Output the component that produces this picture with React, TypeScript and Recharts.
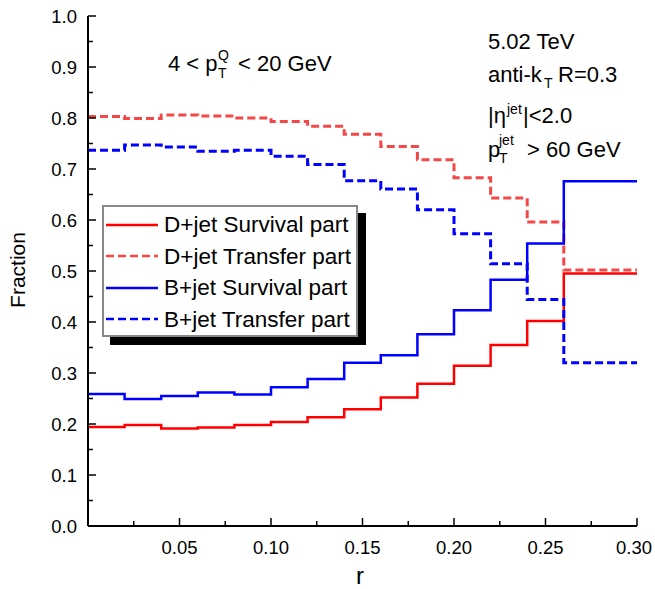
import { LineChart, Line, XAxis, YAxis, Legend } from "recharts";

const rEdges = [0, 0.02, 0.04, 0.06, 0.08, 0.1, 0.12, 0.14, 0.16, 0.18, 0.2, 0.22, 0.24, 0.26, 0.28, 0.3];

// one value per bin (15 bins of width 0.02)
const dSurvival = [0.194, 0.198, 0.191, 0.193, 0.198, 0.204, 0.213, 0.229, 0.252, 0.279, 0.314, 0.355, 0.402, 0.495, 0.495];
const dTransfer = [0.803, 0.799, 0.806, 0.804, 0.8, 0.793, 0.784, 0.768, 0.744, 0.718, 0.683, 0.643, 0.596, 0.502, 0.502];
const bSurvival = [0.259, 0.249, 0.255, 0.262, 0.258, 0.272, 0.288, 0.32, 0.335, 0.376, 0.423, 0.483, 0.554, 0.676, 0.676];
const bTransfer = [0.737, 0.747, 0.743, 0.735, 0.737, 0.725, 0.709, 0.677, 0.661, 0.62, 0.573, 0.514, 0.444, 0.32, 0.32];

const xTicks = [0.025, 0.05, 0.075, 0.1, 0.125, 0.15, 0.175, 0.2, 0.225, 0.25, 0.275, 0.3];
const xLabels = ["0.05", "0.10", "0.15", "0.20", "0.25", "0.30"];
const yTicks = [0, 0.05, 0.1, 0.15, 0.2, 0.25, 0.3, 0.35, 0.4, 0.45, 0.5, 0.55, 0.6, 0.65, 0.7, 0.75, 0.8, 0.85, 0.9, 0.95, 1];

const series = [
  { key: "dSurv", name: "D+jet Survival part", color: "#ff0000", dash: undefined, values: dSurvival },
  { key: "dTrans", name: "D+jet Transfer part", color: "#f44848", dash: "8 4", values: dTransfer },
  { key: "bSurv", name: "B+jet Survival part", color: "#0000ff", dash: undefined, values: bSurvival },
  { key: "bTrans", name: "B+jet Transfer part", color: "#0000ff", dash: "8 4", values: bTransfer },
];

const data = rEdges.map((r, i) => {
  const row: any = { r };
  series.forEach((s) => {
    row[s.key] = s.values[Math.min(i, s.values.length - 1)];
  });
  return row;
});

const FONT = "'Liberation Sans', Arial, sans-serif";

const isMajorX = (v: number) => Math.round(v * 1000) % 50 === 0;
const isMajorY = (v: number) => Math.round(v * 100) % 10 === 0;

const BottomTick = (props: any) => {
  const { x, y, payload } = props;
  const v = payload.value;
  const major = isMajorX(v);
  const idx = Math.round(v * 20) - 1;
  return (
    <g>
      <line x1={x} y1={y} x2={x} y2={y - (major ? 8 : 5)} stroke="#000" strokeWidth={1.5} />
      {major && (
        <text x={idx === 5 ? x - 3 : x} y={y + 28} textAnchor="middle" fontSize={18.5} fontFamily={FONT} fill="#000">
          {xLabels[idx]}
        </text>
      )}
    </g>
  );
};

const TopTick = (props: any) => {
  const { x, y, payload } = props;
  const major = isMajorX(payload.value);
  return <line x1={x} y1={y} x2={x} y2={y + (major ? 8 : 5)} stroke="#000" strokeWidth={1.5} />;
};

const LeftTick = (props: any) => {
  const { x, y, payload } = props;
  const v = payload.value;
  const major = isMajorY(v);
  return (
    <g>
      <line x1={x} y1={y} x2={x + (major ? 8 : 5)} y2={y} stroke="#000" strokeWidth={1.5} />
      {major && (
        <text x={x - 11} y={y + 7} textAnchor="end" fontSize={18.5} fontFamily={FONT} fill="#000">
          {v.toFixed(1)}
        </text>
      )}
    </g>
  );
};

const RightTick = (props: any) => {
  const { x, y, payload } = props;
  const major = isMajorY(payload.value);
  return <line x1={x} y1={y} x2={x - (major ? 8 : 5)} y2={y} stroke="#000" strokeWidth={1.5} />;
};

const LegendBox = () => (
  <div
    style={{
      width: 256,
      height: 132,
      border: "2px solid #888",
      background: "#fff",
      boxShadow: "8px 8px 0 #000",
      fontFamily: FONT,
      fontSize: 22.5,
      paddingTop: 2,
      boxSizing: "border-box",
    }}
  >
    {series.map((s) => (
      <div key={s.key} style={{ display: "flex", alignItems: "center", height: 31.5 }}>
        <svg width={60} height={10} style={{ flex: "none" }}>
          <line x1={2} y1={5} x2={54} y2={5} stroke={s.color} strokeWidth={2.5} strokeDasharray={s.dash} />
        </svg>
        <span style={{ color: "#000", whiteSpace: "nowrap", lineHeight: "31.5px" }}>{s.name}</span>
      </div>
    ))}
  </div>
);

const txt = { fontFamily: FONT, fill: "#000" } as const;

export default function App() {
  return (
    <div style={{ position: "relative", width: 655, height: 589, background: "#fff", overflow: "hidden" }}>
      <style>{"body{margin:0;overflow:hidden}"}</style>
      <LineChart width={655} height={589} data={data} margin={{ top: 16, right: 18, bottom: 0, left: 0 }}>
        <XAxis
          dataKey="r"
          type="number"
          domain={[0, 0.3]}
          ticks={xTicks}
          interval={0}
          tickSize={0}
          tickMargin={0}
          tick={<BottomTick />}
          tickLine={false}
          height={63}
          axisLine={{ stroke: "#000", strokeWidth: 2 }}
          allowDataOverflow
        />
        <XAxis
          xAxisId="top"
          orientation="top"
          dataKey="r"
          type="number"
          domain={[0, 0.3]}
          ticks={xTicks}
          interval={0}
          tickSize={0}
          tickMargin={0}
          tick={<TopTick />}
          tickLine={false}
          height={0}
          axisLine={{ stroke: "#000", strokeWidth: 2 }}
          allowDataOverflow
        />
        <YAxis
          type="number"
          domain={[0, 1]}
          ticks={yTicks}
          interval={0}
          tickSize={0}
          tickMargin={0}
          tick={<LeftTick />}
          tickLine={false}
          width={88}
          axisLine={{ stroke: "#000", strokeWidth: 2 }}
          allowDataOverflow
        />
        <YAxis
          yAxisId="right"
          orientation="right"
          type="number"
          domain={[0, 1]}
          ticks={yTicks}
          interval={0}
          tickSize={0}
          tickMargin={0}
          tick={<RightTick />}
          tickLine={false}
          width={0}
          axisLine={{ stroke: "#000", strokeWidth: 2 }}
          allowDataOverflow
        />
        <Legend
          layout="horizontal"
          verticalAlign="middle"
          align="center"
          content={<LegendBox />}
          wrapperStyle={{ position: "absolute", left: 102, top: 205, width: 266, height: 142 }}
        />
        {series.map((s) => (
          <Line
            key={s.key}
            dataKey={s.key}
            name={s.name}
            type="stepAfter"
            stroke={s.color}
            strokeWidth={s.dash ? 3 : 2.5}
            strokeDasharray={s.dash}
            dot={false}
            activeDot={false}
            isAnimationActive={false}
          />
        ))}
      </LineChart>
      <svg width={655} height={589} style={{ position: "absolute", left: 0, top: 0, pointerEvents: "none" }}>
        <text x={168} y={71} fontSize={22} {...txt}>4 &lt; p</text>
        <text x={218} y={60} fontSize={14} {...txt}>Q</text>
        <text x={218} y={78} fontSize={14} {...txt}>T</text>
        <text x={238} y={71} fontSize={22} {...txt}>&lt; 20 GeV</text>

        <text x={488} y={49} fontSize={22} {...txt}>5.02 TeV</text>
        <text x={488} y={82} fontSize={22} {...txt}>anti-k</text>
        <text x={544} y={88} fontSize={14} {...txt}>T</text>
        <text x={558} y={82} fontSize={22} {...txt}>R=0.3</text>
        <text x={488} y={123} fontSize={22} {...txt}>|η</text>
        <text x={507} y={114} fontSize={14} {...txt}>jet</text>
        <text x={523} y={123} fontSize={22} {...txt}>|&lt;2.0</text>
        <text x={488} y={157} fontSize={22} {...txt}>p</text>
        <text x={499} y={145} fontSize={14} {...txt}>jet</text>
        <text x={499} y={163} fontSize={14} {...txt}>T</text>
        <text x={527} y={157} fontSize={22} {...txt}>&gt; 60 GeV</text>

        <text x={360} y={584} fontSize={24} textAnchor="middle" {...txt}>r</text>
        <text x={25} y={270} fontSize={21} textAnchor="middle" transform="rotate(-90 25 270)" {...txt}>
          Fraction
        </text>
      </svg>
    </div>
  );
}
